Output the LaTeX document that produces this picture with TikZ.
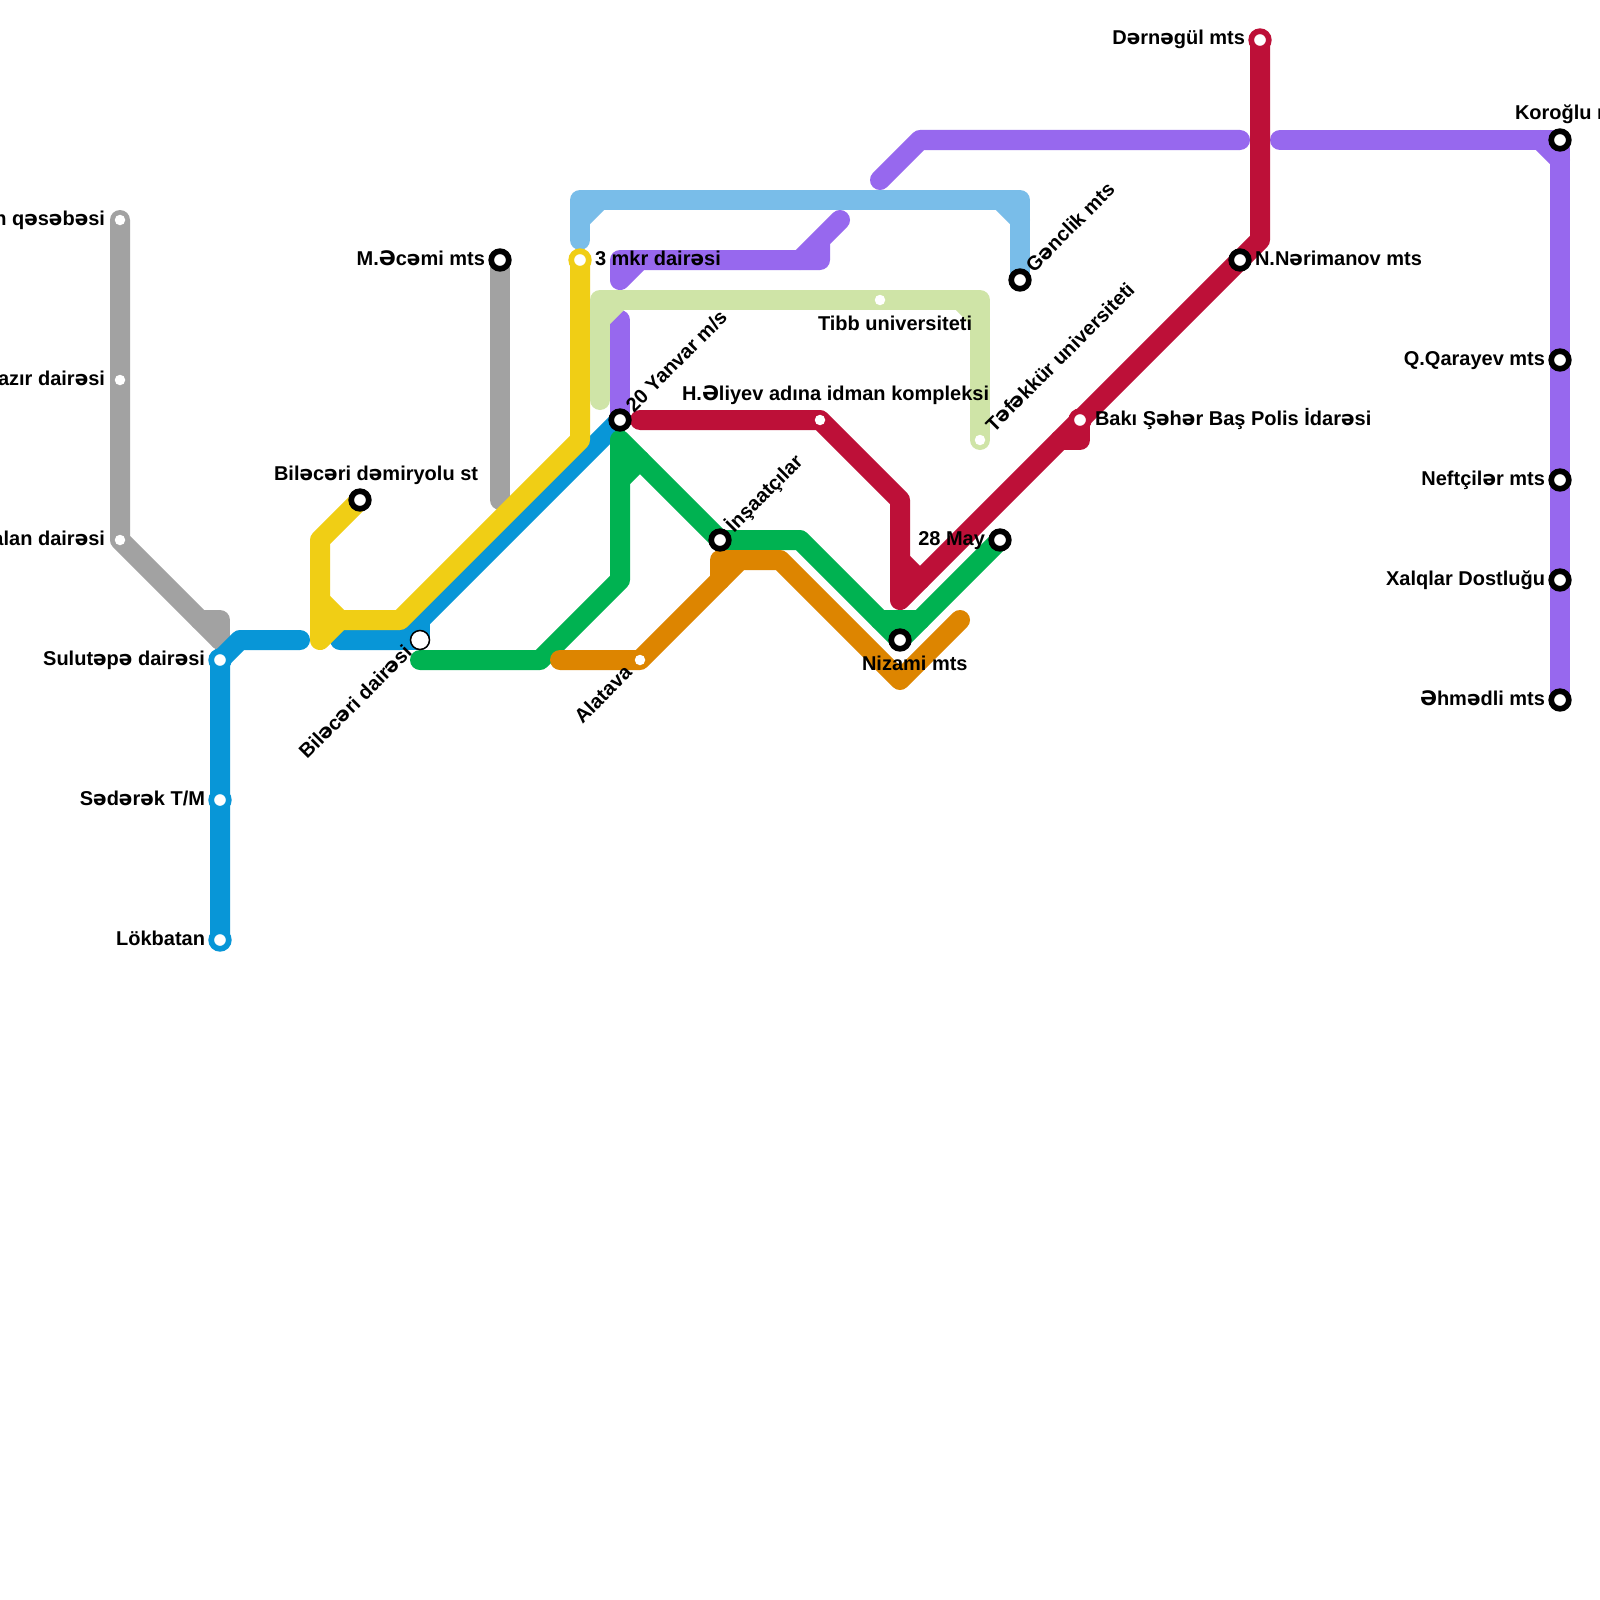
\documentclass[tikz,border=0pt]{standalone}
\usepackage{fontspec}
\setmainfont{Liberation Sans}
\newfontfamily\schwafont{DejaVu Sans}
\catcode`ə=13
\protected\defə{{\schwafont\symbol{"0259}}}
\catcode`Ə=13
\protected\defƏ{{\schwafont\symbol{"018F}}}
\definecolor{cgray}{HTML}{A2A2A2}
\definecolor{cblue}{HTML}{0896D7}
\definecolor{cyellow}{HTML}{F0CE15}
\definecolor{cgreen}{HTML}{00B251}
\definecolor{corange}{HTML}{DD8500}
\definecolor{cred}{HTML}{BD1038}
\definecolor{cpurple}{HTML}{9768EE}
\definecolor{csky}{HTML}{79BDE9}
\definecolor{clime}{HTML}{CFE4A7}
\tikzset{
  metro/.style={line width=20pt,line cap=round,line join=round},
  blackst/.style={circle,draw=black,fill=white,line width=5.7pt,minimum size=17.6pt,inner sep=0pt,outer sep=0pt},
  ringst/.style={circle,draw=#1,fill=white,line width=5.7pt,minimum size=17.6pt,inner sep=0pt,outer sep=0pt},
  dotst/.style={circle,fill=white,minimum size=10.5pt,inner sep=0pt,outer sep=0pt},
  openst/.style={circle,draw=black,fill=white,line width=1.5pt,minimum size=19pt,inner sep=0pt,outer sep=0pt},
  lbl/.style={font=\bfseries\fontsize{20}{22}\selectfont,inner sep=0pt,outer sep=0pt,text=black},
  lblL/.style={lbl,anchor=base east},
  lblR/.style={lbl,anchor=base west},
  lblNE/.style={lbl,anchor=base west,rotate=45},
  lblSW/.style={lbl,anchor=base east,rotate=45},
}
\begin{document}
\begin{tikzpicture}[x=1pt,y=-1pt]
\useasboundingbox (0,0) rectangle (1600,1600);
\fill[white] (0,0) rectangle (1600,1600);
\clip (0,0) rectangle (1600,1600);
% gray 1
\coordinate (g1) at (120,220);\coordinate (g2) at (120,380);\coordinate (g3) at (120,540);
\coordinate (g4) at (200,620);\coordinate (g5) at (220,620);\coordinate (g6) at (220,640);
\draw[metro,cgray] (g1)--(g2)--(g3)--(g4)--(g6);
\draw[metro,cgray] (g4)--(g5)--(g6);
% gray 2
\coordinate (h1) at (500,260);\coordinate (h2) at (500,500);
\draw[metro,cgray] (h1)--(h2);
% blue
\coordinate (b1) at (220,940);\coordinate (b2) at (220,800);\coordinate (b3) at (220,660);
\coordinate (b4) at (240,640);\coordinate (b5) at (300,640);
\coordinate (b6) at (340,640);\coordinate (b7) at (400,640);\coordinate (b8) at (420,640);
\coordinate (b9) at (420,620);\coordinate (b10) at (620,420);
\draw[metro,cblue] (b1)--(b2)--(b3)--(b4)--(b5);
\draw[metro,cblue] (b6)--(b7)--(b10);
\draw[metro,cblue] (b7)--(b8)--(b9);
% yellow
\coordinate (y1) at (360,500);\coordinate (y2) at (320,540);\coordinate (y3) at (320,600);
\coordinate (y4) at (320,640);\coordinate (y5) at (340,620);\coordinate (y6) at (400,620);
\coordinate (y7) at (580,440);\coordinate (y8) at (580,260);
\draw[metro,cyellow] (y1)--(y2)--(y3)--(y4)--(y5)--(y6)--(y7)--(y8);
\draw[metro,cyellow] (y3)--(y5);
% sky
\coordinate (s1) at (580,240);\coordinate (s2) at (580,220);\coordinate (s3) at (580,200);
\coordinate (s4) at (600,200);\coordinate (s5) at (1000,200);\coordinate (s6) at (1020,200);
\coordinate (s7) at (1020,220);\coordinate (s8) at (1020,280);
\draw[metro,csky] (s1)--(s2)--(s3)--(s6)--(s7)--(s8);
\draw[metro,csky] (s2)--(s4);
\draw[metro,csky] (s5)--(s7);
% purple
\coordinate (p1) at (880,180);\coordinate (p2) at (920,140);\coordinate (p3) at (1240,140);
\coordinate (p4) at (1280,140);\coordinate (p5) at (1540,140);\coordinate (p6) at (1560,140);
\coordinate (p7) at (1560,160);\coordinate (p8) at (1560,360);\coordinate (p9) at (1560,480);
\coordinate (p10) at (1560,580);\coordinate (p11) at (1560,700);
\draw[metro,cpurple] (p1)--(p2)--(p3);
\draw[metro,cpurple] (p4)--(p6)--(p7)--(p8)--(p9)--(p10)--(p11);
\draw[metro,cpurple] (p5)--(p7);
\coordinate (q1) at (840,220);\coordinate (q2) at (800,260);\coordinate (q3) at (820,260);
\coordinate (q4) at (820,240);\coordinate (q5) at (620,260);\coordinate (q6) at (620,280);
\coordinate (q7) at (640,260);
\draw[metro,cpurple] (q1)--(q2)--(q3)--(q4);
\draw[metro,cpurple] (q2)--(q5)--(q6)--(q7);
\coordinate (r1) at (620,320);\coordinate (r2) at (620,420);
\draw[metro,cpurple] (r1)--(r2);
% lime
\coordinate (l1) at (600,400);\coordinate (l2) at (600,320);\coordinate (l3) at (600,300);
\coordinate (l4) at (620,300);\coordinate (l5) at (880,300);\coordinate (l6) at (960,300);
\coordinate (l7) at (980,300);\coordinate (l8) at (980,320);\coordinate (l9) at (980,440);
\draw[metro,clime] (l1)--(l2)--(l3)--(l5)--(l7)--(l8)--(l9);
\draw[metro,clime] (l2)--(l4);
\draw[metro,clime] (l6)--(l8);
% green
\coordinate (e1) at (420,660);\coordinate (e2) at (540,660);\coordinate (e3) at (620,580);
\coordinate (e4) at (620,480);\coordinate (e5) at (620,440);\coordinate (e6) at (640,460);
\coordinate (e7) at (720,540);\coordinate (e8) at (800,540);\coordinate (e9) at (880,620);
\coordinate (e10) at (920,620);\coordinate (e11) at (900,640);\coordinate (e12) at (1000,540);
\draw[metro,cgreen] (e1)--(e2)--(e3)--(e4)--(e5)--(e6)--(e7)--(e8)--(e9)--(e11)--(e10)--(e12);
\draw[metro,cgreen] (e4)--(e6);
\draw[metro,cgreen] (e9)--(e10);
% orange
\coordinate (o1) at (560,660);\coordinate (o2) at (640,660);\coordinate (o3) at (720,580);
\coordinate (o4) at (720,560);\coordinate (o5) at (740,560);\coordinate (o6) at (780,560);
\coordinate (o7) at (900,680);\coordinate (o8) at (960,620);
\draw[metro,corange] (o1)--(o2)--(o3)--(o5)--(o6)--(o7)--(o8);
\draw[metro,corange] (o3)--(o4)--(o5);
% red
\coordinate (c1) at (640,420);\coordinate (c2) at (820,420);\coordinate (c3) at (900,500);
\coordinate (c4) at (900,560);\coordinate (c5) at (900,600);\coordinate (c6) at (920,580);
\coordinate (c7) at (1060,440);\coordinate (c8) at (1080,420);\coordinate (c9) at (1080,440);
\coordinate (c10) at (1240,260);\coordinate (c11) at (1260,240);\coordinate (c12) at (1260,40);
\draw[metro,cred] (c1)--(c2)--(c3)--(c4)--(c5)--(c6)--(c7)--(c8)--(c10)--(c11)--(c12);
\draw[metro,cred] (c4)--(c6);
\draw[metro,cred] (c7)--(c9)--(c8);
% stations
\node[dotst] (n1) at (g1) {};
\node[dotst] (n2) at (g2) {};
\node[dotst] (n3) at (g3) {};
\node[blackst] (n4) at (h1) {};
\node[ringst=cblue] (n5) at (b3) {};
\node[ringst=cblue] (n6) at (b2) {};
\node[ringst=cblue] (n7) at (b1) {};
\node[blackst] (n8) at (y1) {};
\node[openst] (n9) at (b8) {};
\node[ringst=cyellow] (n10) at (y8) {};
\node[blackst] (n11) at (r2) {};
\node[dotst] (n12) at (o2) {};
\node[blackst] (n13) at (e7) {};
\node[dotst] (n14) at (c2) {};
\node[dotst] (n15) at (l5) {};
\node[dotst] (n16) at (l9) {};
\node[blackst] (n17) at (e11) {};
\node[blackst] (n18) at (e12) {};
\node[blackst] (n19) at (s8) {};
\node[ringst=cred] (n20) at (c8) {};
\node[blackst] (n21) at (c10) {};
\node[ringst=cred] (n22) at (c12) {};
\node[blackst] (n23) at (p6) {};
\node[blackst] (n24) at (p8) {};
\node[blackst] (n25) at (p9) {};
\node[blackst] (n26) at (p10) {};
\node[blackst] (n27) at (p11) {};
% labels
\node[lblL] (t1) at (105,225) {n qəsəbəsi};
\node[lblL] (t2) at (105,385) {azır dairəsi};
\node[lblL] (t3) at (105,545) {alan dairəsi};
\node[lblL] (t4) at (205,665) {Sulutəpə dairəsi};
\node[lblL] (t5) at (205,805) {Sədərək T/M};
\node[lblL] (t6) at (205,945) {Lökbatan};
\node[lblL] (t7) at (485,265) {M.Əcəmi mts};
\node[lblR] (t8) at (274,480) {Biləcəri dəmiryolu st};
\node[lblR] (t9) at (595,265) {3 mkr dairəsi};
\node[lblNE] (t10) at (634,413) {20 Yanvar m/s};
\node[lblR] (t11) at (682,400) {H.Əliyev adına idman kompleksi};
\node[lblR] (t12) at (818,330) {Tibb universiteti};
\node[lblNE] (t13) at (734,533) {İnşaatçılar};
\node[lblL] (t14) at (985,545) {28 May};
\node[lblR] (t15) at (862,670) {Nizami mts};
\node[lblSW] (t16) at (413,654) {Biləcəri dairəsi};
\node[lblSW] (t17) at (633,674) {Alatava};
\node[lblNE] (t18) at (1034,273) {Gənclik mts};
\node[lblNE] (t19) at (994,433) {Təfəkkür universiteti};
\node[lblR] (t20) at (1095,425) {Bakı Şəhər Baş Polis İdarəsi};
\node[lblR] (t21) at (1255,265) {N.Nərimanov mts};
\node[lblL] (t22) at (1245,45) {Dərnəgül mts};
\node[lblR] (t23) at (1515,120) {Koroğlu mts};
\node[lblL] (t24) at (1545,365) {Q.Qarayev mts};
\node[lblL] (t25) at (1545,485) {Neftçilər mts};
\node[lblL] (t26) at (1545,585) {Xalqlar Dostluğu};
\node[lblL] (t27) at (1545,705) {Əhmədli mts};
\end{tikzpicture}
\end{document}
